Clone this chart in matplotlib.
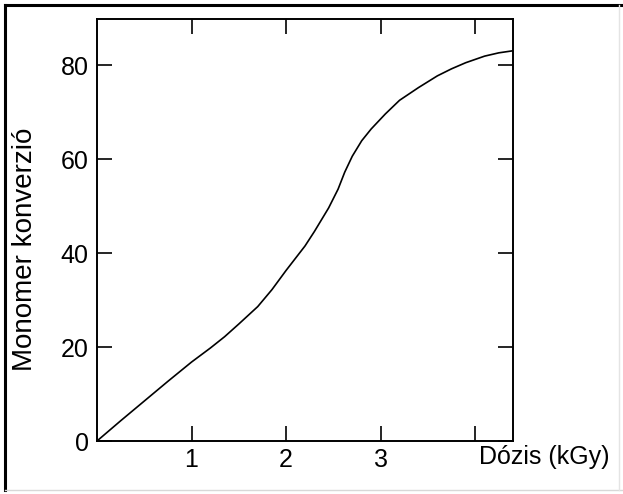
import matplotlib
matplotlib.use("Agg")
import matplotlib.pyplot as plt
from matplotlib.lines import Line2D

# Data
dose = [0, 0.25, 0.5, 0.75, 1.0, 1.2, 1.35, 1.5, 1.7, 1.85, 2.0, 2.2, 2.3, 2.45, 2.55, 2.62,
        2.7, 2.8, 2.9, 3.05, 3.2, 3.4, 3.6, 3.75, 3.9, 4.1, 4.25, 4.42]
conversion = [0, 4.3, 8.5, 12.7, 16.8, 19.8, 22.2, 24.9, 28.6, 32.2, 36.3, 41.5, 44.6, 49.6, 53.6, 57.2,
              60.6, 63.9, 66.4, 69.6, 72.5, 75.2, 77.7, 79.2, 80.5, 81.9, 82.6, 83.1]

x_ticks = [1, 2, 3, 4]
x_tick_labels = ["1", "2", "3", ""]
y_ticks = [0, 20, 40, 60, 80]
y_tick_labels = ["0", "20", "40", "60", "80"]

plt.rcParams['font.family'] = ['Liberation Sans', 'DejaVu Sans']

W, H = 623, 494
fig = plt.figure(figsize=(W / 100, H / 100), dpi=100)
# axes box in pixels: left 97, right 513, top 19, bottom 441
ax = fig.add_axes([97 / W, 1 - 441 / H, (513 - 97) / W, (441 - 19) / H])

ax.plot(dose, conversion, color="black", lw=1.2)
ax.set_xlim(0, 4.40)
ax.set_ylim(0, 89.8)

ax.set_xticks(x_ticks)
ax.set_xticklabels(x_tick_labels)
ax.set_yticks(y_ticks)
ax.set_yticklabels(y_tick_labels)
ax.tick_params(direction="in", length=11, width=1.2, top=True, right=True,
               labelsize=18, pad=6)
ax.tick_params(axis="x", pad=5)
for s in ax.spines.values():
    s.set_linewidth(1.4)

fig.text(25 / W, 1 - 249 / H, "Monomer konverzió", fontsize=20, rotation=90,
         ha="center", va="center")
fig.text(544 / W, 1 - 457 / H, "Dózis (kGy)", fontsize=18, ha="center", va="center")

# outer frame
fig.add_artist(Line2D([5 / W, 1.0], [1 - 5 / H, 1 - 5 / H], color="black", lw=2.2, transform=fig.transFigure))
fig.add_artist(Line2D([5 / W, 5 / W], [1 - 5 / H, 1 - 490 / H], color="black", lw=2.2, transform=fig.transFigure))
fig.add_artist(Line2D([5 / W, 1.0], [1 - 490 / H, 1 - 490 / H], color="#d8d8d8", lw=1.0, transform=fig.transFigure))
fig.add_artist(Line2D([619 / W, 619 / W], [1 - 5 / H, 1 - 490 / H], color="#e4e4e4", lw=1.0, transform=fig.transFigure))

fig.savefig("out.png", dpi=100)
